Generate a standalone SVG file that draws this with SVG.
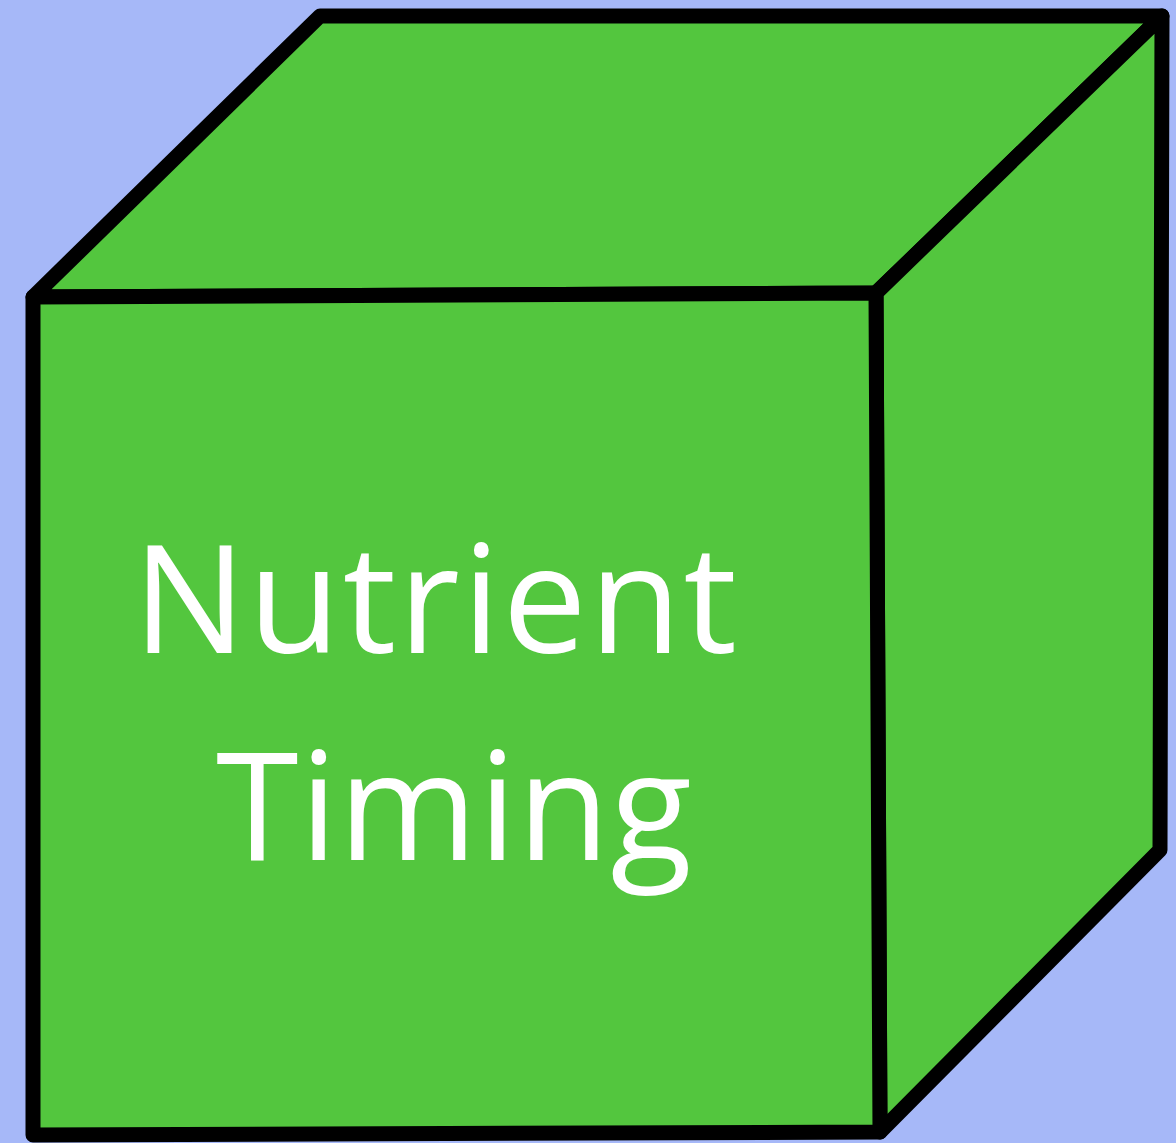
<svg xmlns="http://www.w3.org/2000/svg" width="1176" height="1143" viewBox="0 0 1176 1143">
<style>
.face{fill:#53c63e;stroke:#000;stroke-width:15;stroke-linejoin:round;stroke-linecap:round}
.lbl{fill:#fff;font-family:"Open Sans","Noto Sans",sans-serif;font-size:150px}
</style>
<rect width="1176" height="1143" fill="#a6b8f8"/>
<g id="cube">
<polygon class="face" points="33,297 320,16 1162,16 876,293"/>
<polygon class="face" points="876,293 1162,16 1160,850 880,1132"/>
<polygon class="face" points="33,297 876,293 880,1132 33,1135"/>
</g>
<g id="label">
<text class="lbl" x="133" y="653" textLength="604" lengthAdjust="spacing">Nutrient</text>
<text class="lbl" x="216" y="860" textLength="476" lengthAdjust="spacing">Timing</text>
</g>
</svg>
